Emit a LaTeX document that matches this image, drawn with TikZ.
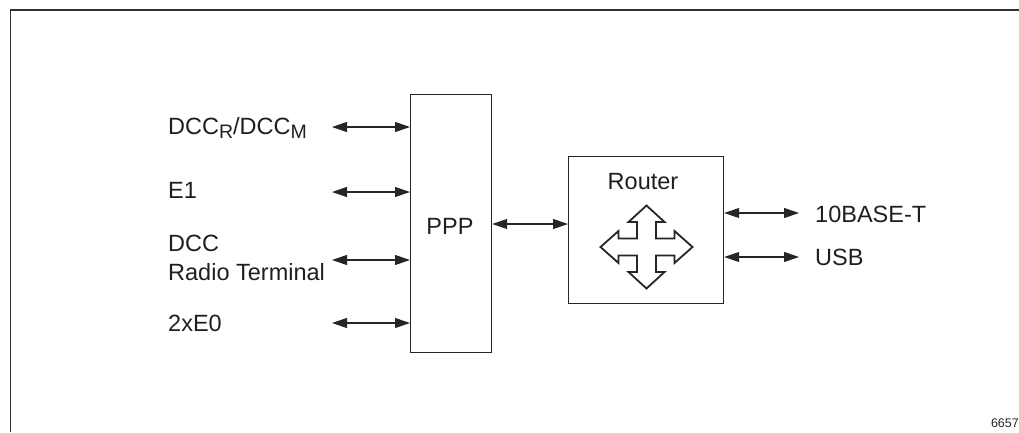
\documentclass[tikz,border=0pt]{standalone}
\usepackage{fontspec}
\setmainfont{Liberation Sans}
\usetikzlibrary{arrows.meta}
\begin{document}
\begin{tikzpicture}[x=1pt,y=-1pt,
  box/.style={draw=black!85, line width=1.2pt, inner sep=0pt, anchor=north west},
  lbl/.style={anchor=base west, inner sep=0pt, font=\fontsize{23.5}{29}\selectfont, text=black!88, align=left},
  clbl/.style={lbl, anchor=base},
  link/.style={line width=1.1pt, draw=black!85, {Triangle[length=15pt,width=10pt]}-{Triangle[length=15pt,width=10pt]}}]
\useasboundingbox (0,0) rectangle (1019,432);
\draw[line width=1.5pt, black!80] (10.5,432) -- (10.5,10) -- (1019,10);
% boxes
\node[box, minimum width=81pt, minimum height=258pt] (ppp) at (410,94) {};
\node[box, minimum width=155pt, minimum height=147pt] (router) at (568,156) {};
\node[clbl] (ppplbl) at (450,234) {PPP};
\node[clbl] (routerlbl) at (643,189) {Router};
% cross arrow
\draw[line width=1.8pt, draw=black!85, line join=miter, shift={(646.5,247)}]
  (0,-41.5) -- (18,-25) -- (9.5,-25) -- (9.5,-8.5) -- (28,-8.5) -- (28,-16) -- (46,0)
  -- (28,16) -- (28,8.5) -- (9.5,8.5) -- (9.5,25) -- (18,25) -- (0,41.5)
  -- (-18,25) -- (-9.5,25) -- (-9.5,8.5) -- (-28,8.5) -- (-28,16) -- (-46,0)
  -- (-28,-16) -- (-28,-8.5) -- (-9.5,-8.5) -- (-9.5,-25) -- (-18,-25) -- cycle;
% left labels
\node[lbl] (dccrm) at (168,134) {DCC\raisebox{-4.5pt}{\fontsize{19.5}{19.5}\selectfont R}/DCC\raisebox{-4.5pt}{\fontsize{19.5}{19.5}\selectfont M}};
\node[lbl] (e1) at (168,198) {E1};
\node[lbl] (dccrt) at (168,280) {DCC\\Radio Terminal};
\node[lbl] (e0) at (168,331) {2xE0};
% right labels
\node[lbl] (tbase) at (815,222) {10BASE-T};
\node[lbl] (usb) at (815,265) {USB};
\node[anchor=base east, inner sep=0pt, font=\fontsize{12.5}{14}\selectfont, text=black!85] (fig) at (1019,427) {6657};
% connectors
\coordinate (l1) at (332,127);
\coordinate (l2) at (332,192);
\coordinate (l3) at (332,260);
\coordinate (l4) at (332,323);
\coordinate (m) at (530,224);
\coordinate (r1) at (799,213);
\coordinate (r2) at (799,257);
\draw[link] (l1) -- (ppp.west |- l1);
\draw[link] (l2) -- (ppp.west |- l2);
\draw[link] (l3) -- (ppp.west |- l3);
\draw[link] (l4) -- (ppp.west |- l4);
\draw[link] (ppp.east |- m) -- (router.west |- m);
\draw[link] (router.east |- r1) -- (r1);
\draw[link] (router.east |- r2) -- (r2);
\end{tikzpicture}
\end{document}
